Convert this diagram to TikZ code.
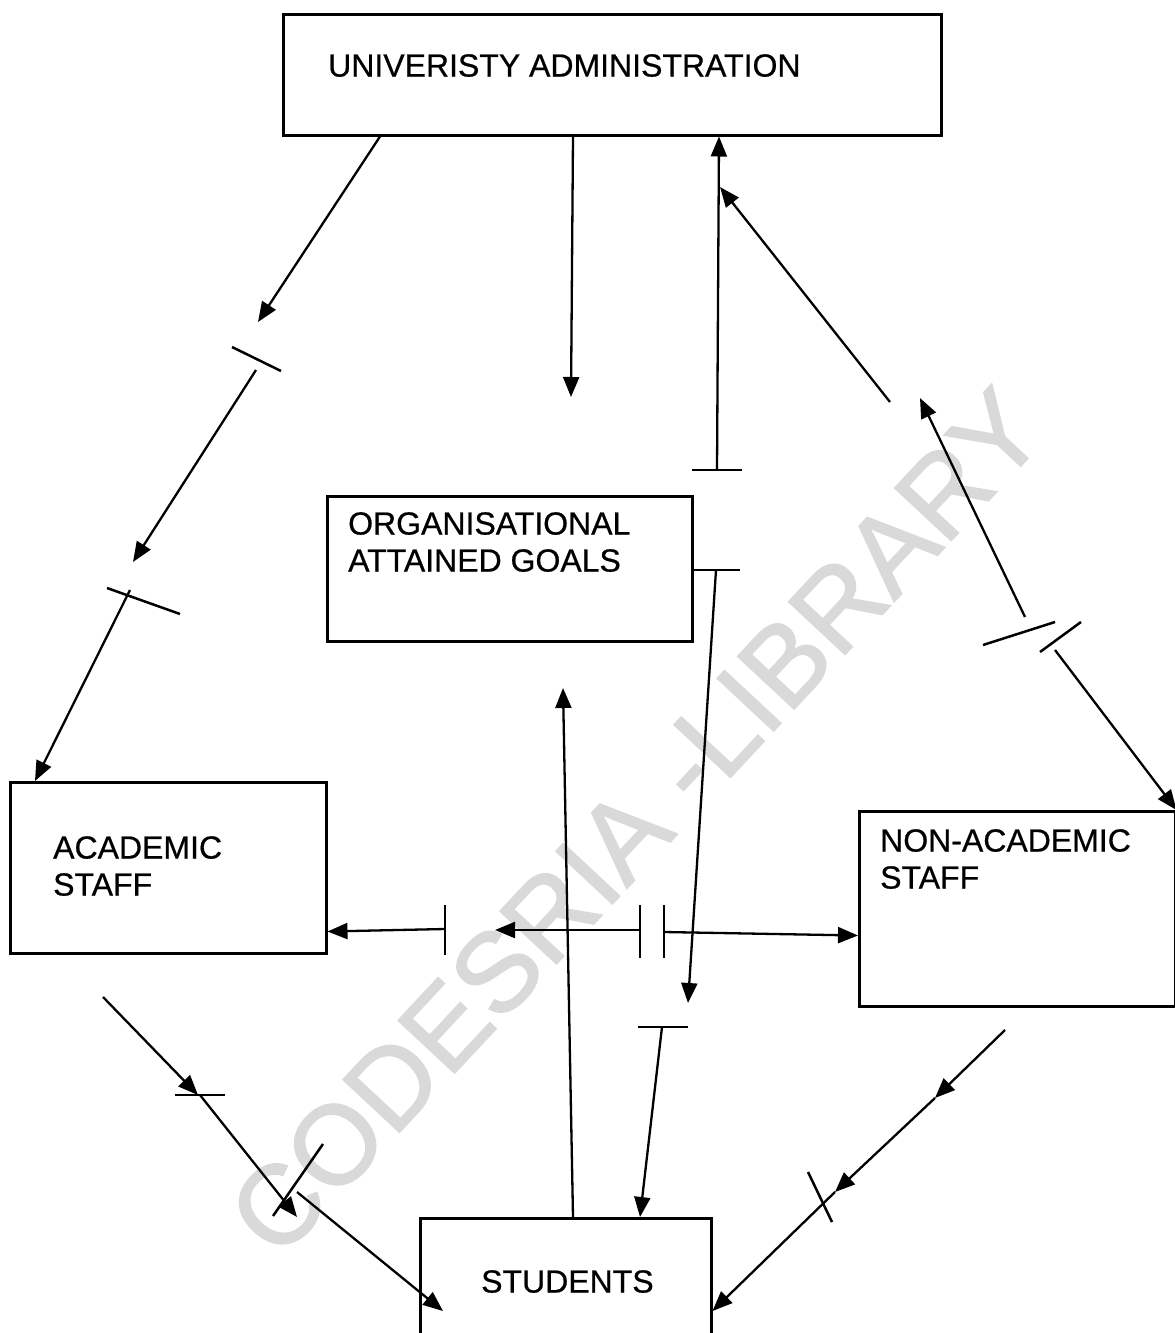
\documentclass[tikz,border=0pt]{standalone}
\usepackage{fontspec}
\setmainfont{Liberation Sans}
\usetikzlibrary{arrows.meta,calc}

\tikzset{
  box/.style={draw, line width=2.5pt, anchor=north west, inner sep=0pt},
  lbl/.style={anchor=north west, inner sep=0pt, align=left,
              font=\fontsize{32}{37}\selectfont\addfontfeature{FakeBold=0.6}},
  link/.style={line width=2.3pt, -{Triangle[length=20pt,width=16pt]}},
  bar/.style={line width=2.5pt},
  stamp/.style={text=black!15, inner sep=0pt,
                font=\fontsize{112}{112}\selectfont\addfontfeature{FakeBold=1.5}}
}

\begin{document}
\begin{tikzpicture}[x=1pt,y=-1pt]
\useasboundingbox (0,0) rectangle (1175,1333);
\fill[white] (0,0) rectangle (1175,1333);
\clip (0,0) rectangle (1175,1333);

% library stamp in the background
\node[stamp, rotate=47] (stampmark) at (636,822) {CODESRIA -LIBRARY};

% boxes
\node[box, minimum width=658pt, minimum height=121pt] (admin) at (282,13) {};
\node[box, minimum width=365pt, minimum height=145pt] (org)   at (326,495) {};
\node[box, minimum width=316pt, minimum height=171pt] (acad)  at (9,781) {};
\node[box, minimum width=316pt, minimum height=195pt] (nonac) at (858,810) {};
\node[box, minimum width=291pt, minimum height=130pt] (stud)  at (419,1217) {};

% box labels
\node[lbl] (admin-t) at (328,54)  {UNIVERISTY ADMINISTRATION};
\node[lbl] (org-t)   at (348,512) {ORGANISATIONAL\\ATTAINED GOALS};
\node[lbl] (acad-t)  at (53,836)  {ACADEMIC\\STAFF};
\node[lbl] (nonac-t) at (880,829) {NON-ACADEMIC\\STAFF};
\node[lbl] (stud-t)  at (481,1270) {STUDENTS};

% administration -> academic staff
\coordinate (la1) at (258,322);
\coordinate (la2) at (256,370);
\coordinate (la3) at (133,562);
\coordinate (la4) at (130,590);
\draw[link] ($(admin.south west)+(98,0)$) -- (la1);
\draw[bar] (232,347) -- (281,371);
\draw[link] (la2) -- (la3);
\draw[bar] (107,588) -- (180,614);
\draw[link] (la4) -- ($(acad.north west)+(26,0)$);

% administration -> goals, goals -> administration
\coordinate (ca) at (571,397);
\draw[link] ($(admin.south west)+(291,0)$) -- (ca);
\coordinate (cb) at (717,470);
\draw[bar] (692,470) -- (742,470);
\draw[link] (cb) -- ($(admin.south west)+(437,0)$);

% non-academic staff <-> administration
\coordinate (na1) at (1025,617);
\coordinate (na2) at (920,398);
\coordinate (na3) at (890,402);
\coordinate (na4) at (720,187);
\coordinate (na5) at (1055,650);
\draw[link] (na1) -- (na2);
\draw[link] (na3) -- (na4);
\draw[bar] (983,645) -- (1055,622);
\draw[bar] (1040,652) -- (1081,622);
\draw[link] (na5) -- (nonac.north east);

% goals -> students
\coordinate (og1) at (716,570);
\coordinate (og2) at (688,1003);
\coordinate (og3) at (662,1027);
\draw[bar] (org.east |- og1) -- (740,570);
\draw[link] (og1) -- (og2);
\draw[bar] (638,1027) -- (688,1027);
\draw[link] (og3) -- ($(stud.north west)+(221,0)$);

% students -> goals
\coordinate (sg) at (563,688);
\draw[link] ($(stud.north west)+(154,0)$) -- (sg);

% academic staff <-> non-academic staff
\coordinate (h1) at (445,929);
\coordinate (h2) at (640,930);
\coordinate (h3) at (495,930);
\coordinate (h4) at (664,932);
\draw[link] (h1) -- ($(acad.south east)+(0,-23)$);
\draw[bar] (445,905) -- (445,955);
\draw[link] (h2) -- (h3);
\draw[bar] (640,905) -- (640,958);
\draw[bar] (664,905) -- (664,958);
\draw[link] (h4) -- ($(nonac.south west)+(0,-72)$);

% academic staff -> students
\coordinate (as1) at (103,997);
\coordinate (as2) at (198,1095);
\coordinate (as3) at (200,1095);
\coordinate (as4) at (297,1217);
\coordinate (as5) at (297,1192);
\draw[link] (as1) -- (as2);
\draw[bar] (175,1095) -- (225,1095);
\draw[link] (as3) -- (as4);
\draw[bar] (273,1216) -- (323,1144);
\draw[link] (as5) -- ($(stud.north west)+(24,94)$);

% non-academic staff -> students
\coordinate (ns1) at (1005,1030);
\coordinate (ns2) at (935,1098);
\coordinate (ns3) at (835,1192);
\draw[link] (ns1) -- (ns2);
\draw[link] (ns2) -- (ns3);
\draw[link] (ns3) -- ($(stud.north east)+(0,94)$);
\draw[bar] (808,1172) -- (832,1222);
\end{tikzpicture}
\end{document}
